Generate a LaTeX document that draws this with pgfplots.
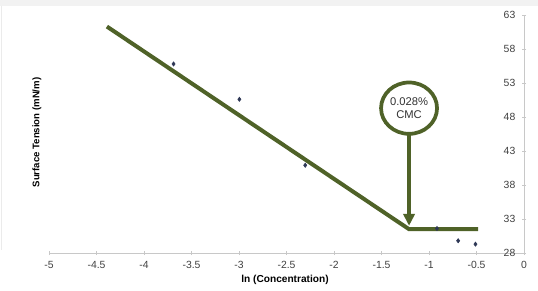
\documentclass[border=0pt]{standalone}
\usepackage{fontspec}
\setmainfont{Liberation Sans}
\usepackage{pgfplots}
\pgfplotsset{compat=1.18}
\usetikzlibrary{arrows.meta,shapes.geometric}
\definecolor{olive}{RGB}{79,98,40}
\definecolor{pts}{RGB}{45,55,85}
\definecolor{axgray}{RGB}{200,200,200}
\begin{document}
\begin{tikzpicture}
\useasboundingbox (0,0) rectangle (403.5pt,217.5pt);
\begin{scope}[x=0.75pt,y=-0.75pt,shift={(0,217.5pt)}]
  \fill[black!5] (0,0) rectangle (538,6);
  \draw[black!8,line width=1.2pt] (1.5,6) -- (1.5,250);
  \node[font=\bfseries\fontsize{7.2}{8}\selectfont,rotate=90] at (37,132.5) {Surface Tension (mN/m)};
  \node[font=\bfseries\fontsize{7.6}{9}\selectfont] at (285,280) {ln (Concentration)};
\end{scope}
\begin{axis}[
  at={(36.75pt,27.75pt)}, anchor=south west,
  scale only axis, width=356.25pt, height=178.5pt,
  xmin=-5, xmax=0, ymin=28, ymax=63,
  axis x line*=bottom, axis y line*=right,
  axis line style={-,draw=axgray,line width=0.6pt},
  xtick={-5,-4.5,...,0}, ytick={28,33,...,63},
  tick align=center, major tick length=3pt,
  tick style={draw=axgray,line width=0.6pt},
  /pgf/number format/assume math mode=true,
  /pgf/number format/fixed,
  ticklabel style={font=\fontsize{7.8}{9}\selectfont, text=black!75},
  yticklabel style={anchor=east, xshift=-4.5pt},
  xticklabel style={yshift=-1pt},
  clip=false,
]
\addplot[olive, line width=3pt, line join=miter] coordinates {(-4.39,61.3) (-1.21,31.5) (-0.484,31.5)};
\addplot[only marks, mark=diamond*, mark size=1.6pt, color=pts] coordinates {
 (-3.689,55.8) (-2.996,50.6) (-2.303,40.9) (-0.916,31.6) (-0.693,29.8) (-0.511,29.3)};
\draw[olive, line width=2.4pt, -{Triangle[length=9pt,width=8.5pt]}] (axis cs:-1.21,45.4) -- (axis cs:-1.21,32.0);
\node[draw=olive, line width=2.8pt, fill=white, ellipse, minimum width=42pt, minimum height=38.5pt, inner sep=0pt, align=center, font=\fontsize{8.4}{10}\selectfont, text=black!80] at (axis cs:-1.21,49.3) {0.028\%\\CMC};
\end{axis}
\end{tikzpicture}
\end{document}
